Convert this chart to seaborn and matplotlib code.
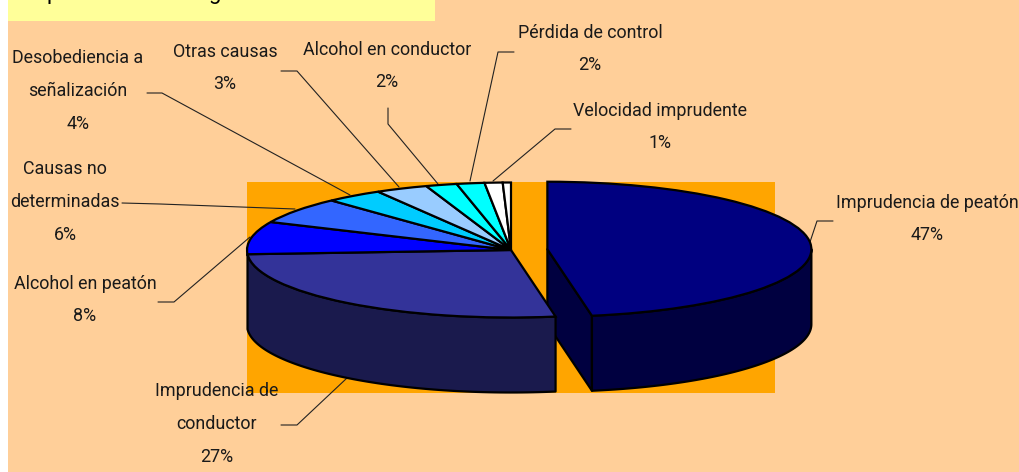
import numpy as np
import matplotlib
matplotlib.use('Agg')
import matplotlib.pyplot as plt
import seaborn as sns

# Slice values (clockwise from 12 o'clock)
causes = ['Imprudencia de peatón', 'Imprudencia de\nconductor', 'Alcohol en peatón',
          'Causas no\ndeterminadas', 'Desobediencia a\nseñalización', 'Otras causas',
          'Alcohol en conductor', 'Pérdida de control', 'Velocidad imprudente', '']
shares = [47.3, 26.7, 7.8, 6.3, 3.5, 3.2, 1.9, 1.7, 1.1, 0.5]
shown_pct = ['47%', '27%', '8%', '6%', '4%', '3%', '2%', '2%', '1%', '']

top_colors = ['#000080', '#333399', '#0000FF', '#3366FF', '#00CCFF',
              '#99CCFF', '#00FFFF', '#00FFFF', '#FFFFFF', '#FFFFFF']
side_colors = ['#000040', '#1A1A4D']

# Layout of labels and leader lines, in pixels of the picture
label_xy = [(927, 219), (217, 424), (85, 300), (65, 202), (78, 91),
            (225, 68), (387, 66), (590, 49), (660, 127)]
leaders = [[(810, 242), (817, 221), (833, 221)],
           [(347, 378), (297, 425), (281, 425)],
           [(250, 237), (174, 302), (158, 302)],
           [(295, 209), (160, 204), (122, 203)],
           [(350, 195), (162, 93), (147, 93)],
           [(399, 187), (297, 71), (281, 71)],
           [(438, 184), (388, 124), (388, 108)],
           [(470, 181), (498, 52), (514, 52)],
           [(493, 181), (555, 129), (571, 129)]]

W, H = 1020, 472
CX, CY, RX, RY = 511, 250, 264, 67.5
DEPTH = 75 / RY
EXPLODE = 36.5 / RX

sns.set_theme(style='white')
plt.rcParams['font.family'] = ['Roboto']

fig = plt.figure(figsize=(W / 100, H / 100), dpi=100, facecolor='white')

# Backdrop, labels and leader lines use pixel coordinates
bg = fig.add_axes([0, 0, 1, 1])
bg.set_xlim(0, W)
bg.set_ylim(H, 0)
bg.axis('off')
bg.fill_between([8, W], 0, H, color='#FFCF99', lw=0)
bg.fill_between([8, 435], 0, 21, color='#FFFF99', lw=0)
bg.fill_between([247, 775], 182, 393, color='#FFA500', lw=0)

# Title is cut by the picture edge, only these descenders show
bg.text(53, -1, 'p', fontsize=16, ha='center', va='baseline', color='black')
bg.text(215, -1, 'g', fontsize=16, ha='center', va='baseline', color='black')

for pts in leaders:
    xs, ys = zip(*pts)
    bg.plot(xs, ys, color='#222222', lw=0.8)

for name, pct, (x, y) in zip(causes, shown_pct, label_xy):
    bg.text(x, y, name + '\n' + pct, fontsize=12.9, ha='center', va='center',
            linespacing=2.05, color='#1a1a1a', zorder=6)

# The pie axes: one data unit is one radius, so the circle becomes a flat ellipse
ax = fig.add_axes([0, 0, 1, 1])
ax.patch.set_alpha(0)
explode = [EXPLODE] + [0] * (len(shares) - 1)
wedges, _ = ax.pie(shares, colors=top_colors, explode=explode, startangle=90,
                   counterclock=False, radius=1,
                   wedgeprops={'edgecolor': 'black', 'linewidth': 1.6})
for w in wedges:
    w.set_zorder(5)
ax.set_aspect('auto')
ax.set_xlim(-CX / RX, (W - CX) / RX)
ax.set_ylim((CY - H) / RY, CY / RY)

# Side walls, taken from the same angles as the wedges
edges = np.cumsum([0] + shares) * 3.6
style = {'edgecolor': 'black', 'linewidth': 1.6, 'joinstyle': 'round'}
for i, color in enumerate(side_colors):
    start, end = edges[i], edges[i + 1]
    mid = np.radians((start + end) / 2)
    dx, dy = explode[i] * np.sin(mid), explode[i] * np.cos(mid)
    if explode[i]:
        # cut face of the pulled out slice
        ex, ey = np.sin(np.radians(end)) + dx, np.cos(np.radians(end)) + dy
        ax.fill([dx, ex, ex, dx], [dy, ey, ey - DEPTH, dy - DEPTH],
                color=color, zorder=i + 1, **style)
    theta = np.radians(np.linspace(max(start, 90), min(end, 270), 80))
    xs = np.sin(theta) + dx
    ys = np.cos(theta) + dy
    ax.fill(np.r_[xs, xs[::-1]], np.r_[ys, ys[::-1] - DEPTH],
            color=color, zorder=i + 1, **style)

fig.savefig('out.png', dpi=100)
